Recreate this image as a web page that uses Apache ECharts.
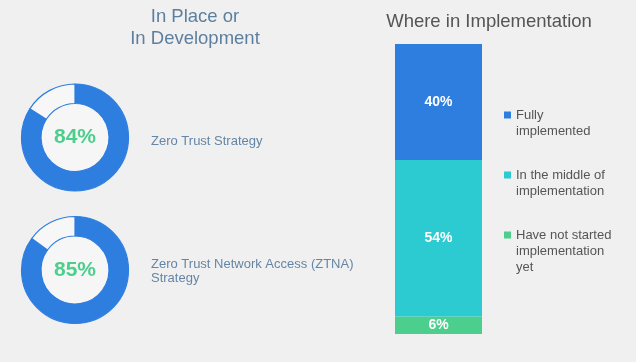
<!DOCTYPE html>
<html>
<head>
<meta charset="utf-8">
<script src="https://cdn.jsdelivr.net/npm/echarts@6/dist/echarts.min.js"></script>
<style>
html,body{margin:0;padding:0;background:#f0f0f0;}
#chart{width:636px;height:362px;}
</style>
</head>
<body>
<div id="chart"></div>
<script>
// ---- data ----
var donutLabels = ['Zero Trust Strategy', 'Zero Trust Network Access (ZTNA)\nStrategy'];
var donutValues = [84, 85];
var stageNames = ['Fully\nimplemented', 'In the middle of\nimplementation', 'Have not started\nimplementation\nyet'];
var stageValues = [40, 54, 6];
var leftTitle = 'In Place or\nIn Development';
var rightTitle = 'Where in Implementation';

var BLUE = '#2e7ee0', TEAL = '#2bcbd1', GREEN = '#4ccf8d';
var stageColors = [BLUE, TEAL, GREEN];
var FONT = '"Liberation Sans", Arial, Helvetica, sans-serif';

var chart = echarts.init(document.getElementById('chart'));

var donutCenters = [[75, 137.5], [75, 270]];
var series = [];
donutValues.forEach(function (v, i) {
  series.push({
    type: 'pie',
    center: donutCenters[i],
    radius: [34, 53.5],
    startAngle: 90,
    clockwise: true,
    silent: true,
    label: { show: false },
    labelLine: { show: false },
    itemStyle: { borderColor: BLUE, borderWidth: 1.2 },
    data: [
      { value: v, itemStyle: { color: BLUE },
        label: { show: true, position: 'center', formatter: v + '%',
                 fontSize: 21, fontWeight: 'bold', color: GREEN, fontFamily: FONT } },
      { value: 100 - v, itemStyle: { color: '#f7f7f7' } }
    ]
  });
});

// stacked bar: bottom to top = last stage to first
for (var k = stageValues.length - 1; k >= 0; k--) {
  series.push({
    type: 'bar',
    name: stageNames[k],
    stack: 'impl',
    barWidth: '100%',
    silent: true,
    data: [stageValues[k]],
    itemStyle: { color: stageColors[k] },
    label: { show: true, position: 'inside', formatter: '{c}%', color: '#ffffff',
             fontSize: 14, fontWeight: 'bold', fontFamily: FONT }
  });
}

// legends: blank leading lines so the icon sits beside the first line
var legends = stageNames.map(function (n, i) {
  var lines = n.split('\n').length;
  var pre = new Array(lines).join('\n');
  var iconCenter = [115, 175, 235][i];
  var blockH = (2 * lines - 1) * 16;
  return {
    left: 504, top: iconCenter - blockH / 2, orient: 'vertical', padding: 0,
    itemWidth: 7, itemHeight: 7, icon: 'rect', selectedMode: false,
    data: [n],
    formatter: function (name) { return pre + name; },
    textStyle: { fontSize: 13, lineHeight: 16, color: '#555555', fontFamily: FONT }
  };
});

chart.setOption({
  backgroundColor: '#f0f0f0',
  animation: false,
  title: [
    { text: leftTitle, left: 190, top: 1, textAlign: 'center',
      textStyle: { fontSize: 18.5, fontWeight: 'normal', color: '#5d7f9f', lineHeight: 22, fontFamily: FONT } },
    { text: rightTitle, left: 484, top: 7, textAlign: 'center',
      textStyle: { fontSize: 18.5, fontWeight: 'normal', color: '#555555', fontFamily: FONT } },
    { text: donutLabels[0], left: 146, top: 130,
      textStyle: { fontSize: 13, fontWeight: 'normal', color: '#6585a6', fontFamily: FONT } },
    { text: donutLabels[1], left: 146, top: 252,
      textStyle: { fontSize: 13, fontWeight: 'normal', color: '#6585a6', lineHeight: 14.5, fontFamily: FONT } }
  ],
  graphic: [
    { type: 'circle', shape: { cx: 75, cy: 137.5, r: 34 }, style: { fill: '#f6f6f6' }, z: -1, silent: true },
    { type: 'circle', shape: { cx: 75, cy: 270, r: 34 }, style: { fill: '#f6f6f6' }, z: -1, silent: true }
  ],
  legend: legends,
  grid: { left: 395, top: 44, width: 87, height: 290 },
  xAxis: { type: 'category', data: ['impl'], show: false },
  yAxis: { type: 'value', min: 0, max: 100, show: false },
  series: series
});
</script>
</body>
</html>
